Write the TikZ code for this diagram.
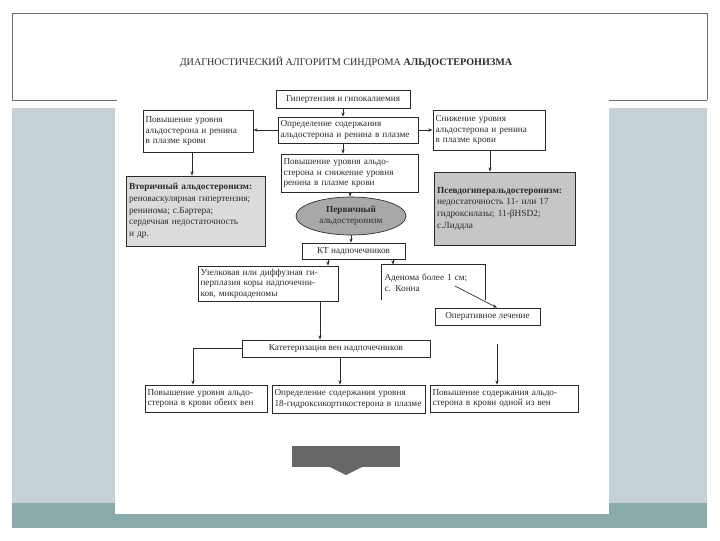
\documentclass[tikz,border=0pt]{standalone}
\usepackage{fontspec}
\setmainfont{Liberation Serif}
\usetikzlibrary{shapes.geometric,arrows.meta}
\definecolor{slidegrey}{HTML}{C6D1D7}
\definecolor{slideteal}{HTML}{8AABA9}
\definecolor{frameline}{HTML}{707070}
\definecolor{inkc}{HTML}{2A2A2A}
\begin{document}
\begin{tikzpicture}[x=0.75pt,y=-0.75pt,
  every node/.style={inner xsep=2pt,inner ysep=1.5pt,text=inkc},
  txt/.style={font=\fontsize{6.9}{7.9}\selectfont},
  box/.style={draw=inkc,line width=0.5pt,txt,align=left,anchor=center},
  grybox/.style={box,fill=gray!28,font=\fontsize{7}{8.8}\selectfont},
  dgrybox/.style={box,fill=gray!45,font=\fontsize{7}{8.8}\selectfont},
  conn/.style={draw=inkc,line width=0.5pt,-{Stealth[length=3.2pt,width=2.4pt]}},
  plain/.style={draw=inkc,line width=0.5pt}]
\useasboundingbox (0,0) rectangle (720,540);
% slide background
\fill[white] (0,0) rectangle (720,540);
\fill[slidegrey] (12,108) rectangle (115,503);
\fill[slidegrey] (609,108) rectangle (707,503);
\fill[slideteal] (12,503) rectangle (115,528);
\fill[slideteal] (609,503) rectangle (707,528);
\fill[slideteal] (115,514) rectangle (609,528);
\draw[frameline,line width=0.6pt] (12,100) -- (12,13) -- (707,13) -- (707,100);
\draw[frameline,line width=0.6pt] (12,100) -- (117,100);
\draw[frameline,line width=0.6pt] (609,100) -- (707,100);
% title
\node[font=\fontsize{7.6}{9}\selectfont] (title) at (346,62) {ДИАГНОСТИЧЕСКИЙ АЛГОРИТМ СИНДРОМА \textbf{АЛЬДОСТЕРОНИЗМА}};
% boxes
\node[box,minimum width=134*0.75pt,minimum height=18*0.75pt,align=center] (b1) at (343,99) {Гипертензия и гипокалиемия};
\node[box,text width=135*0.75pt,minimum height=26*0.75pt] (b2) at (348,130) {Определение содержания\\альдостерона и ренина в плазме};
\node[box,text width=105*0.75pt,minimum height=42*0.75pt] (bL) at (198,131) {Повышение уровня\\альдостерона и ренина\\в плазме крови};
\node[box,text width=107*0.75pt,minimum height=40*0.75pt] (bR) at (489,130) {Снижение уровня\\альдостерона и ренина\\в плазме крови};
\node[box,text width=132*0.75pt,minimum height=38*0.75pt] (bM) at (349.5,173) {Повышение уровня альдо-\\стерона и снижение уровня\\ренина в плазме крови};
\node[grybox,text width=134*0.75pt,minimum height=70*0.75pt] (gL) at (196,211) {\textbf{Вторичный альдостеронизм:}\\реноваскулярная гипертензия;\\ренинома; с.Бартера;\\сердечная недостаточность\\и др.};
\node[dgrybox,text width=136*0.75pt,minimum height=73*0.75pt] (gR) at (505,208.5) {\textbf{Псевдогиперальдостеронизм:}\\недостаточность 11- или 17\\гидроксилазы; 11-βHSD2;\\с.Лиддла\\[10pt]};
\node[ellipse,draw=inkc,line width=0.5pt,fill=gray!68,minimum width=110*0.75pt,minimum height=38*0.75pt,inner sep=0pt,txt,align=center] (el) at (351,216) {\textbf{Первичный}\\альдостеронизм};
\node[box,minimum width=103*0.75pt,minimum height=16*0.75pt,align=center] (kt) at (353.5,251) {КТ надпочечников};
\node[box,text width=135*0.75pt,minimum height=35*0.75pt] (uz) at (268,283.5) {Узелковая или диффузная ги-\\перплазия коры надпочечни-\\ков, микроаденомы};
\node[box,draw=none,text width=98*0.75pt,minimum height=35*0.75pt] (ad) at (433.5,282.5) {Аденома более 1 см;\\с. Конна\\[7pt]};
\draw[plain] (ad.south west) -- (ad.north west) -- (ad.north east) -- (ad.south east);
\node[box,minimum width=105*0.75pt,minimum height=17*0.75pt,align=center] (op) at (487.5,316.5) {Оперативное лечение};
\node[box,minimum width=188*0.75pt,minimum height=17*0.75pt,align=center] (kat) at (336,348.5) {Катетеризация вен надпочечников};
\node[box,text width=117*0.75pt,minimum height=27*0.75pt] (p1) at (206,398.5) {Повышение уровня альдо-\\стерона в крови обеих вен};
\node[box,text width=148*0.75pt,minimum height=28*0.75pt] (p2) at (348.5,399) {Определение содержания уровня\\18-гидроксикортикостерона в плазме};
\node[box,text width=143*0.75pt,minimum height=27*0.75pt] (p3) at (504,398.5) {Повышение содержания альдо-\\стерона в крови одной из вен};
% dark block arrow
\node[fill=gray!80!black,minimum width=108*0.75pt,minimum height=21*0.75pt,inner sep=0pt] (blk) at (346,456.5) {};
\fill[gray!80!black] (330,467) -- (362,467) -- (346,475) -- cycle;
% connectors
\coordinate (kR) at (497,344);
\coordinate (adS) at (455,286);
\draw[conn] (b1.south -| 343,0) -- (b2.north -| 343,0);
\draw[conn] (b2.west) -- (bL.east |- b2.west);
\draw[conn] (b2.east) -- (bR.west |- b2.east);
\draw[conn] (b2.south -| 343,0) -- (bM.north -| 343,0);
\draw[conn] (bL.south -| 192,0) -- (gL.north -| 192,0);
\draw[conn] (bR.south -| 490,0) -- (gR.north -| 490,0);
\draw[conn] (bM.south -| 350,0) -- (el.north -| 350,0);
\draw[conn] (el.south -| 351,0) -- (kt.north -| 351,0);
\draw[conn] (kt.south -| 328,0) -- (uz.north -| 328,0);
\draw[conn] (kt.south -| 393,0) -- (ad.north -| 393,0);
\draw[conn] (adS) -- (op.north -| 497,0);
\draw[conn] (uz.south -| 320,0) -- (kat.north -| 320,0);
\draw[conn] (kat.west) -| (p1.north -| 193,0);
\draw[conn] (kat.south -| 340,0) -- (p2.north -| 340,0);
\draw[conn] (kR) -- (p3.north -| 497,0);
\end{tikzpicture}
\end{document}
